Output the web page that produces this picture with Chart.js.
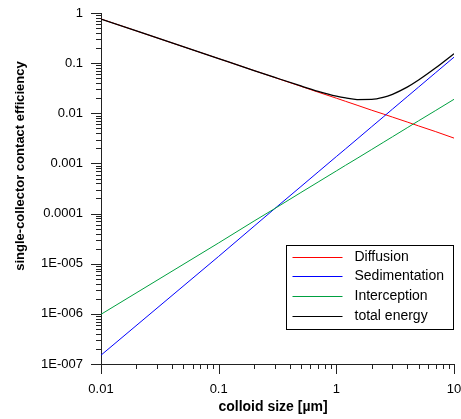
<!DOCTYPE html>
<html>
<head>
<meta charset="utf-8">
<script src="https://cdn.jsdelivr.net/npm/chart.js@4"></script>
<style>
    html, body { margin: 0; padding: 0; background: #ffffff; }
</style>
</head>
<body>
<canvas id="chart" width="461" height="419"></canvas>
<script>
// --- Data ---
const colloidSize = [0.01, 0.1, 0.2, 0.3, 0.5, 0.7, 1, 1.2, 1.5, 2, 2.5, 3, 4, 5, 7, 10];
const diffusion = [0.759, 0.123, 0.0711, 0.0516, 0.0345, 0.0264, 0.0200, 0.0173, 0.0145, 0.0115, 0.0097, 0.0084, 0.0067, 0.0056, 0.0043, 0.0032];
const sedimentation = [1.5e-7, 1.4e-5, 5.6e-5, 1.26e-4, 3.46e-4, 6.75e-4, 1.37e-3, 1.96e-3, 3.05e-3, 5.41e-3, 8.41e-3, 0.0121, 0.0214, 0.0333, 0.0649, 0.1315];
const interception = [9.8e-7, 2.6e-5, 7.1e-5, 1.26e-4, 2.63e-4, 4.25e-4, 7.08e-4, 9.2e-4, 1.26e-3, 1.9e-3, 2.62e-3, 3.4e-3, 5.14e-3, 7.08e-3, 0.0114, 0.019];
const totalEnergy = [0.759, 0.123, 0.0712, 0.0519, 0.0351, 0.0275, 0.0220, 0.0202, 0.0188, 0.0189, 0.0207, 0.0239, 0.0332, 0.0460, 0.0806, 0.154];

const xTickValues = [0.01, 0.1, 1, 10];
const xTickLabels = ['0.01', '0.1', '1', '10'];
const yTickValues = [1e-7, 1e-6, 1e-5, 1e-4, 1e-3, 1e-2, 1e-1, 1];
const yTickLabels = ['1E-007', '1E-006', '1E-005', '0.0001', '0.001', '0.01', '0.1', '1'];

const FONT = 'Arial, "Liberation Sans", sans-serif';
const AXIS_COLOR = '#222222';

const toPoints = values => colloidSize.map((x, i) => ({ x: x, y: values[i] }));

// 2..9 between each pair of decades
function minorValues(decades) {
    const out = [];
    for (let i = 0; i < decades.length - 1; i++) {
        for (let k = 2; k <= 9; k++) out.push(decades[i] * k);
    }
    return out;
}

// --- Tick marks: long on decades, short in between, plus axis titles ---
const tickMarks = {
    id: 'tickMarks',
    afterDraw(chart) {
        const ctx = chart.ctx;
        const area = chart.chartArea;
        const xs = chart.scales.x, ys = chart.scales.y;
        ctx.save();
        ctx.strokeStyle = AXIS_COLOR;
        ctx.lineWidth = 1;
        ctx.beginPath();
        yTickValues.forEach(v => {
            const py = Math.round(ys.getPixelForValue(v)) + 0.5;
            ctx.moveTo(area.left - 10, py);
            ctx.lineTo(area.left, py);
        });
        minorValues(yTickValues).forEach(v => {
            const py = Math.round(ys.getPixelForValue(v)) + 0.5;
            ctx.moveTo(area.left - 5, py);
            ctx.lineTo(area.left, py);
        });
        xTickValues.forEach(v => {
            const px = Math.round(xs.getPixelForValue(v)) + 0.5;
            ctx.moveTo(px, area.bottom);
            ctx.lineTo(px, area.bottom + 10);
        });
        minorValues(xTickValues).forEach(v => {
            const px = Math.round(xs.getPixelForValue(v)) + 0.5;
            ctx.moveTo(px, area.bottom);
            ctx.lineTo(px, area.bottom + 5);
        });
        ctx.stroke();

        ctx.fillStyle = '#000000';
        ctx.textAlign = 'center';
        ctx.textBaseline = 'middle';
        ctx.font = 'bold 14px ' + FONT;
        ctx.fillText('colloid size [µm]', 273, 407);
        ctx.translate(20, 166);
        ctx.rotate(-Math.PI / 2);
        ctx.font = 'bold 13px ' + FONT;
        ctx.fillText('single-collector contact efficiency', 0, 0);
        ctx.restore();
    }
};

// --- Boxed legend inside the plot ---
const boxLegend = {
    id: 'boxLegend',
    afterDraw(chart) {
        const ctx = chart.ctx;
        const left = 286.5, top = 245.5, width = 167, height = 84;
        ctx.save();
        ctx.fillStyle = '#ffffff';
        ctx.fillRect(left, top, width, height);
        ctx.strokeStyle = '#000000';
        ctx.lineWidth = 1;
        ctx.strokeRect(left, top, width, height);
        ctx.font = '14px ' + FONT;
        ctx.textBaseline = 'middle';
        ctx.textAlign = 'left';
        chart.data.datasets.forEach((ds, i) => {
            const y = Math.round(top + 11 + i * 19.7) + 0.5;
            ctx.strokeStyle = ds.borderColor;
            ctx.beginPath();
            ctx.moveTo(left + 6, y);
            ctx.lineTo(left + 56, y);
            ctx.stroke();
            ctx.fillStyle = '#000000';
            ctx.fillText(ds.label, left + 68, y);
        });
        ctx.restore();
    }
};

const lineBase = { pointRadius: 0, borderWidth: 1, fill: false, tension: 0 };

new Chart(document.getElementById('chart').getContext('2d'), {
    type: 'line',
    data: {
        datasets: [
            { ...lineBase, label: 'Diffusion', data: toPoints(diffusion), borderColor: '#ff0000', order: 3 },
            { ...lineBase, label: 'Sedimentation', data: toPoints(sedimentation), borderColor: '#0000ff', order: 2 },
            { ...lineBase, label: 'Interception', data: toPoints(interception), borderColor: '#00a040', order: 1 },
            { ...lineBase, label: 'total energy', data: toPoints(totalEnergy), borderColor: '#000000', borderWidth: 1.3, cubicInterpolationMode: 'monotone', order: 0 }
        ]
    },
    options: {
        responsive: false,
        animation: false,
        events: [],
        layout: { padding: { top: 13, right: 7, left: 0, bottom: 0 } },
        plugins: { legend: { display: false }, tooltip: { enabled: false } },
        scales: {
            x: {
                type: 'logarithmic',
                min: 0.01,
                max: 10,
                afterBuildTicks: s => { s.ticks = xTickValues.map(v => ({ value: v })); },
                afterFit: s => { s.height = 55; s.paddingLeft = 0; s.paddingRight = 0; },
                grid: { display: true, drawOnChartArea: false, color: 'rgba(0,0,0,0)', tickLength: 10 },
                border: { display: true, color: AXIS_COLOR, width: 1 },
                ticks: {
                    autoSkip: false, maxRotation: 0, padding: 8,
                    color: '#000000', font: { family: FONT, size: 13 },
                    callback: v => xTickLabels[xTickValues.indexOf(v)]
                }
            },
            y: {
                type: 'logarithmic',
                min: 1e-7,
                max: 1,
                afterBuildTicks: s => { s.ticks = yTickValues.map(v => ({ value: v })); },
                afterFit: s => { s.width = 101; s.paddingTop = 0; s.paddingBottom = 0; },
                grid: { display: true, drawOnChartArea: false, color: 'rgba(0,0,0,0)', tickLength: 10 },
                border: { display: true, color: AXIS_COLOR, width: 1 },
                ticks: {
                    autoSkip: false, padding: 8,
                    color: '#000000', font: { family: FONT, size: 13 },
                    callback: v => yTickLabels[yTickValues.indexOf(v)]
                }
            }
        }
    },
    plugins: [tickMarks, boxLegend]
});
</script>
</body>
</html>
